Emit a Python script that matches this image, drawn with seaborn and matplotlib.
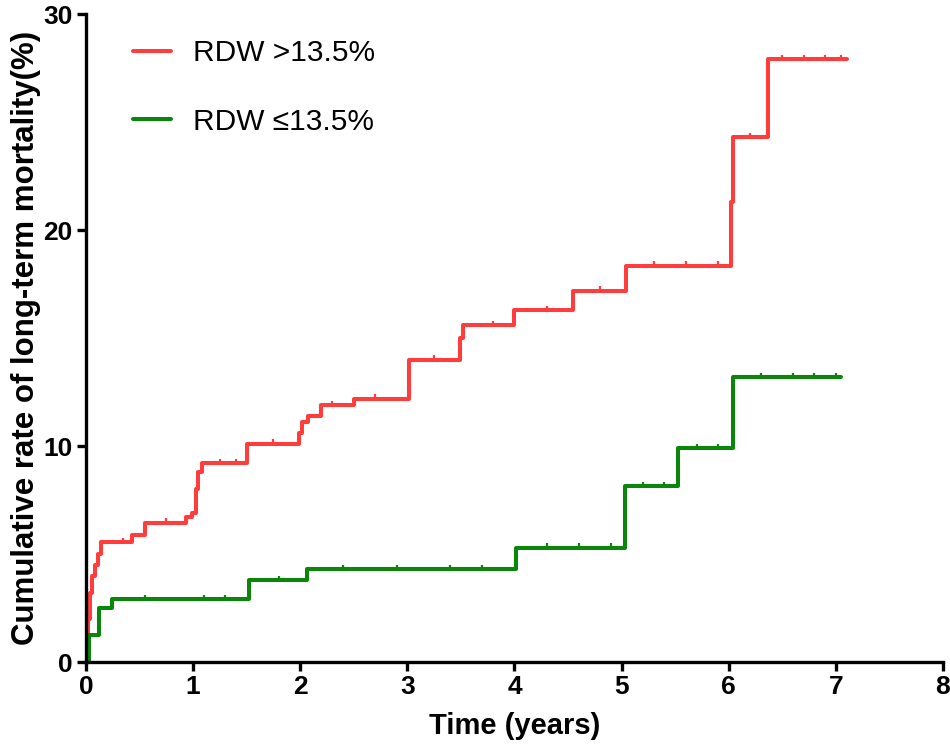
"""
Cumulative long-term mortality by RDW group (step curves)
"""
import matplotlib
matplotlib.use("Agg")
import matplotlib.pyplot as plt
import numpy as np
import pandas as pd
import seaborn as sns

# Step curve data (time in years, cumulative %)
red_time = [0, 0.02, 0.04, 0.06, 0.08, 0.11, 0.14, 0.43, 0.55, 0.93, 0.99,
            1.03, 1.05, 1.08, 1.50, 1.99, 2.02, 2.07, 2.19, 2.50, 3.02, 3.49,
            3.52, 4.00, 4.55, 5.04, 6.02, 6.04, 6.37, 7.10]
red_rate = [0, 2.0, 3.2, 4.0, 4.5, 5.0, 5.55, 5.9, 6.45, 6.7, 6.9,
            8.0, 8.8, 9.2, 10.1, 10.6, 11.1, 11.4, 11.9, 12.2, 14.0, 15.0,
            15.6, 16.3, 17.2, 18.35, 21.3, 24.3, 27.9, 27.9]

green_time = [0, 0.03, 0.12, 0.24, 1.52, 2.06, 4.01, 5.03, 5.53, 6.04, 7.05]
green_rate = [0, 1.25, 2.5, 2.9, 3.8, 4.3, 5.3, 8.15, 9.9, 13.2, 13.2]

# censor marks (approximate)
red_censor = [0.35, 0.75, 1.25, 1.4, 1.75, 2.3, 2.7, 3.25, 3.8, 4.3, 4.8,
              5.3, 5.6, 5.9, 6.2, 6.5, 6.7, 6.9, 7.05]
green_censor = [0.55, 1.1, 1.3, 1.8, 2.4, 2.9, 3.4, 3.7, 4.3, 4.6, 4.9,
                5.2, 5.4, 5.7, 5.9, 6.3, 6.6, 6.8, 7.0]

labels = ["RDW >13.5%", "RDW \u226413.5%"]
RED = "#ff3d3d"
GREEN = "#0a870a"

df = pd.concat([
    pd.DataFrame({"time": red_time, "rate": red_rate, "group": labels[0]}),
    pd.DataFrame({"time": green_time, "rate": green_rate, "group": labels[1]}),
])


def step_value(times, rates, t):
    idx = np.searchsorted(times, t, side="right") - 1
    return np.asarray(rates)[idx]


cens = pd.concat([
    pd.DataFrame({"time": red_censor,
                  "rate": step_value(red_time, red_rate, red_censor),
                  "group": labels[0]}),
    pd.DataFrame({"time": green_censor,
                  "rate": step_value(green_time, green_rate, green_censor),
                  "group": labels[1]}),
])

sns.set_style("ticks")
plt.rcParams["font.family"] = ["Liberation Sans", "DejaVu Sans"]
plt.rcParams.update({
    "axes.linewidth": 2.4,
    "xtick.major.width": 2.4,
    "ytick.major.width": 2.4,
    "xtick.major.size": 6.5,
    "ytick.major.size": 6.5,
    "xtick.color": "black",
    "ytick.color": "black",
    "axes.edgecolor": "black",
    "text.color": "black",
    "axes.labelcolor": "black",
})

fig = plt.figure(figsize=(9.5, 7.5), dpi=100)
ax = fig.add_axes([0.0905, 0.1173, 0.9021, 0.864])

palette = {labels[0]: RED, labels[1]: GREEN}
sns.lineplot(data=df, x="time", y="rate", hue="group", palette=palette,
             estimator=None, sort=False, drawstyle="steps-post",
             linewidth=2.9, legend=False, ax=ax)
sns.scatterplot(data=cens, x="time", y="rate", hue="group", palette=palette,
                marker=2, s=10, linewidth=1.6, legend=False, ax=ax)

ax.set_xlim(0, 8)
ax.set_ylim(0, 30)
ax.set_xticks(range(0, 9))
ax.set_yticks([0, 10, 20, 30])
ax.tick_params(labelsize=19, pad=3)
for t in ax.get_xticklabels() + ax.get_yticklabels():
    t.set_fontweight("bold")
sns.despine(ax=ax)

ax.set_xlabel("Time (years)", fontsize=21, fontweight="bold", labelpad=9)
ax.set_ylabel("Cumulative rate of long-term mortality(%)", fontsize=22.5,
              fontweight="bold", labelpad=2)

handles = ax.lines[:2]
ax.legend(handles, labels, loc="upper left", bbox_to_anchor=(0.038, 0.984),
          frameon=False, fontsize=21.5, handlelength=1.25, handletextpad=0.75,
          labelspacing=1.35, borderpad=0)

plt.savefig("out.png", dpi=100)
plt.close()
